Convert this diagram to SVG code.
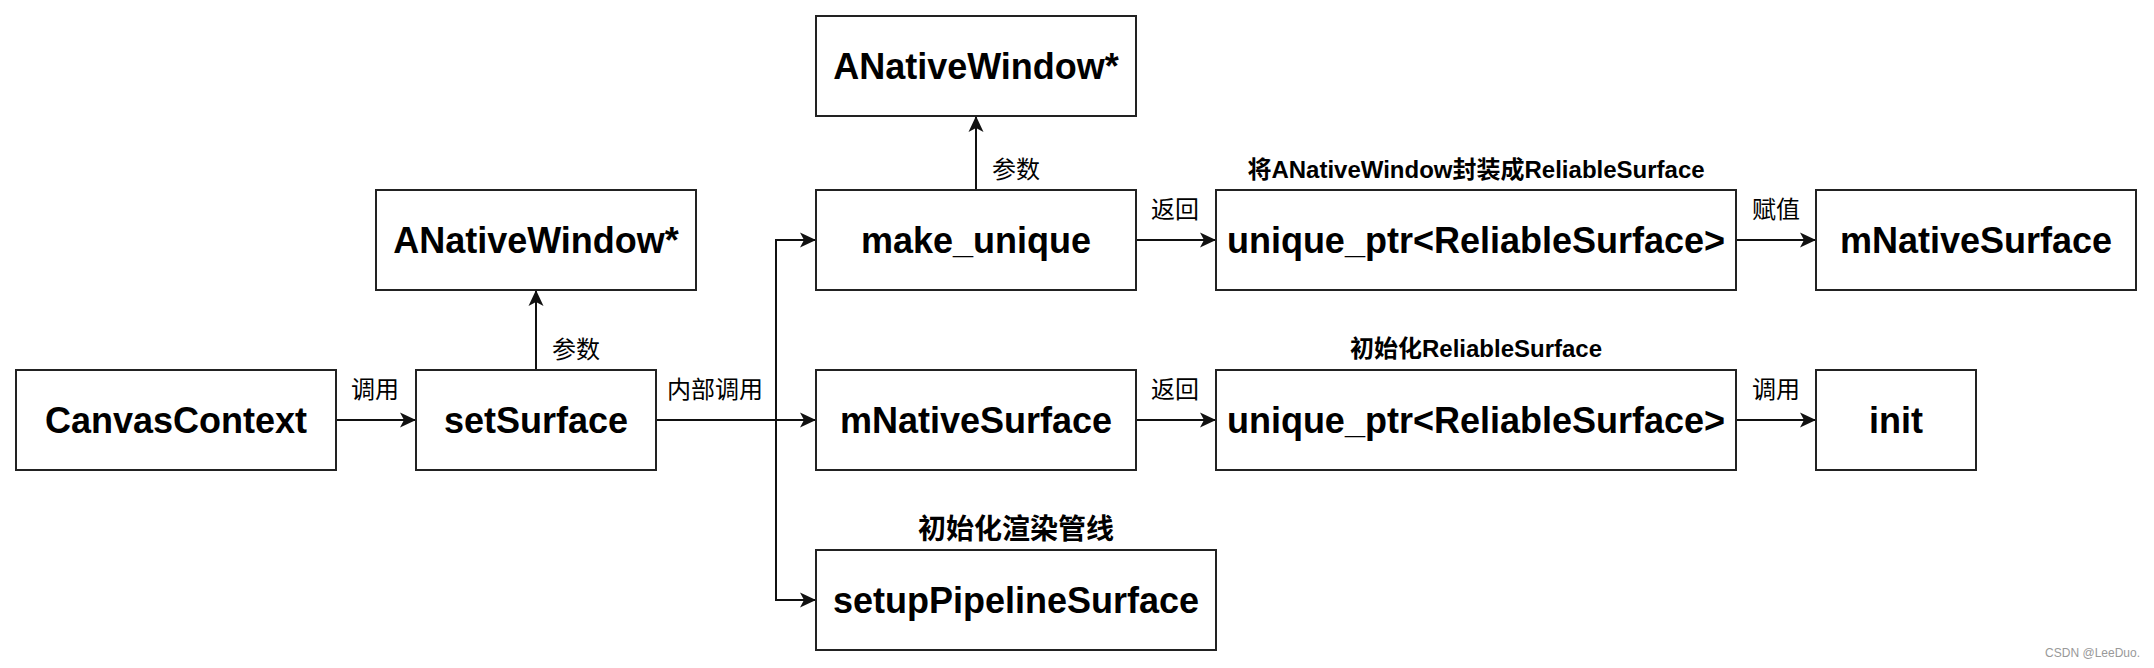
<svg xmlns="http://www.w3.org/2000/svg" width="2154" height="668" viewBox="0 0 2154 668">
<style>
.box{fill:#fff;stroke:#222;stroke-width:2}
.bt{font-family:"Liberation Sans",Arial,"Noto Sans CJK SC",sans-serif;font-weight:bold;font-size:36px;fill:#000;text-anchor:middle}
.el{font-family:"Liberation Sans",Arial,"Noto Sans CJK SC",sans-serif;font-size:24px;fill:#000;text-anchor:middle}
.tl{font-family:"Liberation Sans",Arial,"Noto Sans CJK SC",sans-serif;font-weight:bold;font-size:24px;fill:#000;text-anchor:middle}
.ln{fill:none;stroke:#111;stroke-width:2;marker-end:url(#arr)}
.wm{font-family:"Liberation Sans",Arial,sans-serif;font-size:12px;fill:#999;text-anchor:end}
</style>
<defs>
<marker id="arr" markerUnits="userSpaceOnUse" viewBox="0 0 16 16" refX="16" refY="8" markerWidth="16" markerHeight="16" orient="auto">
<path d="M0,0.5 L16,8 L0,15.5 L4,8 Z" fill="#111"/>
</marker>
</defs>
<rect width="2154" height="668" fill="#fff"/>
<g id="connectors">
<path class="ln" d="M336,420 H416"/>
<path class="ln" d="M536,370 V290"/>
<path class="ln" d="M656,420 H776 V240 H816"/>
<path class="ln" d="M656,420 H816"/>
<path class="ln" d="M656,420 H776 V600 H816"/>
<path class="ln" d="M976,190 V116"/>
<path class="ln" d="M1136,240 H1216"/>
<path class="ln" d="M1136,420 H1216"/>
<path class="ln" d="M1736,240 H1816"/>
<path class="ln" d="M1736,420 H1816"/>
<text class="el" x="375" y="398">调用</text>
<text class="el" x="576" y="358">参数</text>
<text class="el" x="715" y="398">内部调用</text>
<text class="el" x="1016" y="178">参数</text>
<text class="el" x="1175" y="218">返回</text>
<text class="el" x="1175" y="398">返回</text>
<text class="el" x="1776" y="218">赋值</text>
<text class="el" x="1776" y="398">调用</text>
</g>
<g id="canvasContext"><rect class="box" x="16" y="370" width="320" height="100"/><text class="bt" x="176" y="433">CanvasContext</text></g>
<g id="setSurface"><rect class="box" x="416" y="370" width="240" height="100"/><text class="bt" x="536" y="433">setSurface</text></g>
<g id="aNativeWindow1"><rect class="box" x="376" y="190" width="320" height="100"/><text class="bt" x="536" y="253">ANativeWindow*</text></g>
<g id="aNativeWindow2"><rect class="box" x="816" y="16" width="320" height="100"/><text class="bt" x="976" y="79">ANativeWindow*</text></g>
<g id="makeUnique"><rect class="box" x="816" y="190" width="320" height="100"/><text class="bt" x="976" y="253">make_unique</text></g>
<g id="mNativeSurface1"><rect class="box" x="816" y="370" width="320" height="100"/><text class="bt" x="976" y="433">mNativeSurface</text></g>
<g id="setupPipelineSurface"><rect class="box" x="816" y="550" width="400" height="100"/><text class="bt" x="1016" y="613">setupPipelineSurface</text><text class="tl" x="1016" y="539" style="font-size:28px">初始化渲染管线</text></g>
<g id="uniquePtr1"><rect class="box" x="1216" y="190" width="520" height="100"/><text class="bt" x="1476" y="253">unique_ptr&lt;ReliableSurface&gt;</text><text class="tl" x="1476" y="178">将ANativeWindow封装成ReliableSurface</text></g>
<g id="uniquePtr2"><rect class="box" x="1216" y="370" width="520" height="100"/><text class="bt" x="1476" y="433">unique_ptr&lt;ReliableSurface&gt;</text><text class="tl" x="1476" y="357">初始化ReliableSurface</text></g>
<g id="mNativeSurface2"><rect class="box" x="1816" y="190" width="320" height="100"/><text class="bt" x="1976" y="253">mNativeSurface</text></g>
<g id="init"><rect class="box" x="1816" y="370" width="160" height="100"/><text class="bt" x="1896" y="433">init</text></g>
<text class="wm" x="2140" y="657">CSDN @LeeDuo.</text>
</svg>
